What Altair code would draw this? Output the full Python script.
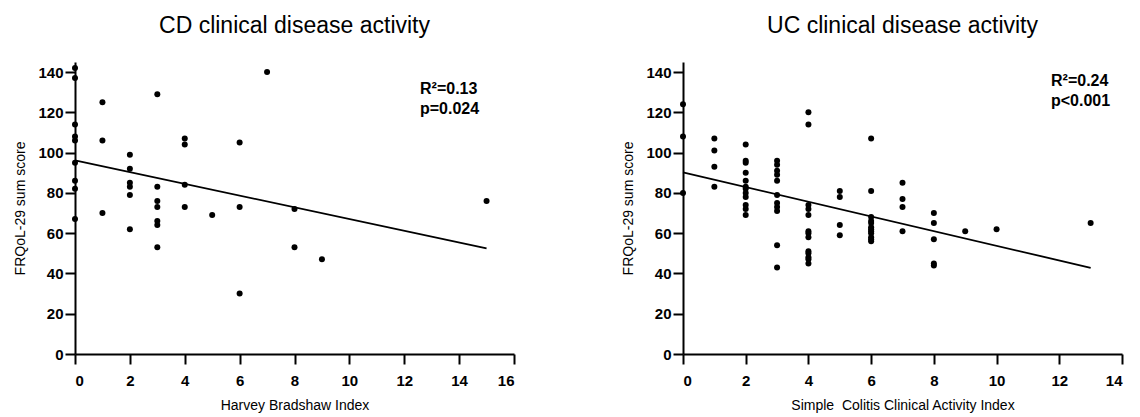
import altair as alt
import pandas as pd

# ---- data ----
cd_hbi = [0, 0, 0, 0, 0, 0, 0, 0, 0,
          1, 1, 1,
          2, 2, 2, 2, 2, 2,
          3, 3, 3, 3, 3, 3, 3,
          4, 4, 4, 4,
          5,
          6, 6, 6,
          7,
          8, 8,
          9,
          15]
cd_frqol = [142, 137, 114, 108, 106, 95, 86, 82, 67,
            125, 106, 70,
            99, 92, 85, 83, 79, 62,
            129, 83, 76, 73, 66, 64, 53,
            107, 104, 84, 73,
            69,
            105, 73, 30,
            140,
            72, 53,
            47,
            76]

uc_sccai = [0, 0, 0,
            1, 1, 1, 1,
            2, 2, 2, 2, 2, 2, 2, 2, 2, 2, 2, 2,
            3, 3, 3, 3, 3, 3, 3, 3, 3, 3, 3,
            4, 4, 4, 4, 4, 4, 4, 4, 4, 4, 4, 4, 4,
            5, 5, 5, 5,
            6, 6, 6, 6, 6, 6, 6, 6, 6, 6, 6, 6,
            7, 7, 7, 7,
            8, 8, 8, 8, 8,
            9,
            10,
            13]
uc_frqol = [124, 108, 80,
            107, 101, 93, 83,
            104, 96, 95, 90, 86, 83, 82, 80, 78, 74, 72, 69,
            96, 94, 91, 89, 86, 79, 75, 73, 71, 54, 43,
            120, 114, 74, 72, 69, 61, 60, 58, 51, 50, 48, 47, 45,
            81, 78, 64, 59,
            107, 81, 68, 66, 65, 63, 62, 61, 60, 58, 57, 56,
            85, 77, 73, 61,
            70, 65, 57, 45, 44,
            61,
            62,
            65]

# fitted regression lines (end points)
cd_fit_x = [0, 15]
cd_fit_y = [96.2, 52.4]
uc_fit_x = [0, 13]
uc_fit_y = [90.2, 42.8]

y_ticks = list(range(0, 141, 10))
titles = ["CD clinical disease activity", "UC clinical disease activity"]
x_titles = ["Harvey Bradshaw Index", "Simple\u00a0 Colitis Clinical Activity Index"]
r2_texts = ["R\u00b2=0.13", "R\u00b2=0.24"]
p_texts = ["p=0.024", "p<0.001"]

FONT = "Liberation Sans"
W, H = 439, 292


def panel(xs, ys, fx, fy, title, xtitle, xmax, r2, p, ann_x, ann_y):
    pts = pd.DataFrame({"x": xs, "y": ys})
    fit = pd.DataFrame({"x": fx, "y": fy})
    xscale = alt.Scale(domain=[0, xmax], nice=False)
    yscale = alt.Scale(domain=[0, 145], nice=False)
    xaxis = alt.Axis(values=list(range(0, xmax + 1, 2)), title=xtitle,
                     tickSize=10, labelPadding=9, titlePadding=10)
    yaxis = alt.Axis(values=y_ticks, title="FRQoL-29 sum score",
                     labelExpr="datum.value % 20 === 0 ? datum.label : ''",
                     tickSize={"condition": {"test": "datum.value % 20 === 0", "value": 10}, "value": 5},
                     labelPadding=2, titlePadding=10)
    points = alt.Chart(pts).mark_circle(size=36, color="black", opacity=1).encode(
        x=alt.X("x:Q", scale=xscale, axis=xaxis),
        y=alt.Y("y:Q", scale=yscale, axis=yaxis),
    )
    line = alt.Chart(fit).mark_line(color="black", strokeWidth=1.8).encode(
        x=alt.X("x:Q", scale=xscale),
        y=alt.Y("y:Q", scale=yscale),
    )
    t1 = alt.Chart(pd.DataFrame({"t": [r2]})).mark_text(
        align="left", baseline="alphabetic", font=FONT, fontSize=16, fontWeight="bold", color="black"
    ).encode(text="t:N", x=alt.value(ann_x), y=alt.value(ann_y))
    t2 = alt.Chart(pd.DataFrame({"t": [p]})).mark_text(
        align="left", baseline="alphabetic", font=FONT, fontSize=16, fontWeight="bold", color="black"
    ).encode(text="t:N", x=alt.value(ann_x), y=alt.value(ann_y + 20))
    return alt.layer(points, line, t1, t2).properties(
        width=W, height=H,
        title=alt.TitleParams(title, anchor="middle", offset=24),
    )


left = panel(cd_hbi, cd_frqol, cd_fit_x, cd_fit_y, titles[0], x_titles[0], 16,
             r2_texts[0], p_texts[0], 345, 32)
right = panel(uc_sccai, uc_frqol, uc_fit_x, uc_fit_y, titles[1], x_titles[1], 14,
              r2_texts[1], p_texts[1], 368, 24)

chart = alt.hconcat(left, right, spacing=106).properties(
    padding={"left": 13, "top": 15, "right": 5, "bottom": 5}
).configure_view(stroke=None).configure_axis(
    grid=False,
    domainColor="black", domainWidth=2,
    tickColor="black", tickWidth=2,
    labelFont=FONT, labelFontSize=15, labelFontWeight="bold", labelColor="black",
    titleFont=FONT, titleFontSize=14, titleFontWeight="normal", titleColor="black",
).configure_title(
    font=FONT, fontSize=23, fontWeight="normal", color="black"
)

chart.save("out.html", embed_options={"renderer": "svg", "actions": False})
